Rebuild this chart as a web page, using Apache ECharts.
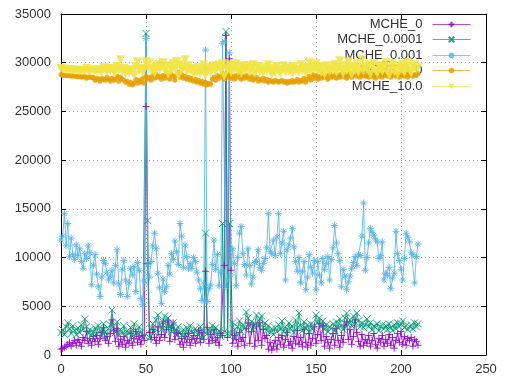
<!DOCTYPE html>
<html>
<head>
<meta charset="utf-8">
<script src="https://cdn.jsdelivr.net/npm/echarts@6/dist/echarts.min.js"></script>
<style>
html,body{margin:0;padding:0;background:#fff;}
#chart{width:505px;height:379px;}
</style>
</head>
<body>
<div id="chart"></div>
<script>
// x positions are sample indices 0..210
const seriesNames = ['MCHE_0', 'MCHE_0.0001', 'MCHE_0.001', 'MCHE_1.0', 'MCHE_10.0'];
const xTicks = [0, 50, 100, 150, 200, 250];
const yTicks = [0, 5000, 10000, 15000, 20000, 25000, 30000, 35000];

const mche0 = [
600, 650, 800, 900, 1100, 1300, 900, 1200, 1500, 1000,
1600, 1300, 900, 1800, 1500, 2400, 1200, 1700, 1000, 1900,
1400, 2000, 1100, 1700, 2300, 2800, 1500, 1900, 1200, 2200,
3600, 2500, 1400, 2700, 900, 1600, 1100, 1900, 800, 1500,
1200, 2200, 1000, 1700, 2400, 1300, 1900, 1100, 2000, 1500,
25500, 9400, 2300, 1600, 2600, 1800, 1200, 2900, 1500, 2100,
3400, 1800, 2600, 3500, 1400, 2800, 3300, 1600, 2300, 2200,
1100, 1700, 800, 1900, 1300, 2200, 1000, 1600, 2000, 1200,
1700, 2500, 1300, 2300, 1600, 8600, 2800, 1200, 2100, 1500,
2600, 1300, 1800, 1000, 2200, 2000, 9200, 32800, 1800, 30400,
8700, 1200, 2000, 1600, 900, 2300, 1400, 1800, 1000, 2700,
3300, 1200, 2400, 3100, 900, 2900, 1500, 3300, 1000, 2600,
1700, 2000, 600, 1300, 500, 900, 1500, 600, 1800, 1100,
2000, 800, 1600, 2300, 1000, 1400, 700, 1900, 1200, 2500,
1100, 1800, 900, 2600, 1300, 800, 2200, 1000, 1700, 2900,
1200, 2100, 3200, 1500, 3000, 900, 1900, 1300, 700, 1600,
2200, 1000, 2700, 1500, 800, 2000, 1300, 3000, 3400, 1600,
2600, 1100, 1900, 3600, 2300, 1400, 900, 2100, 1000, 1600,
1200, 2000, 900, 1500, 2200, 1100, 700, 1700, 1300, 2000,
900, 1600, 1200, 2100, 1000, 1800, 700, 1500, 2200, 1300,
2400, 1100, 1900, 1000, 1700, 1500, 1800, 900, 1600, 1400, 1000
];

const mche00001 = [
2300, 2600, 2100, 2900, 3300, 2700, 2200, 3000, 2500, 2100,
2800, 2300, 3100, 2600, 3700, 2900, 2200, 2600, 2000, 2400,
2800, 2200, 3000, 2500, 1900, 3200, 2400, 2100, 2700, 3100,
4600, 2900, 2300, 3400, 2000, 2600, 2200, 3000, 1900, 2500,
2200, 2800, 1900, 3200, 2500, 2100, 2900, 2300, 1800, 2000,
33000, 13800, 1800, 2700, 3200, 2300, 3600, 4100, 3100, 2600,
3400, 4000, 2700, 3800, 3000, 2400, 3300, 2600, 2200, 2900,
2300, 2000, 2600, 1900, 2800, 2200, 3000, 2400, 2100, 2700,
2500, 2000, 2900, 1700, 2400, 12500, 2200, 2600, 2000, 3000,
2300, 2800, 2100, 2500, 1900, 13500, 2400, 33200, 2200, 13500,
2100, 3300, 2600, 2000, 2900, 3500, 2400, 3100, 2700, 4400,
3800, 2900, 3400, 2600, 3200, 4100, 3000, 3700, 4000, 2800,
3300, 2500, 3000, 2300, 2700, 2100, 2800, 2400, 3100, 2600,
3500, 2400, 2900, 2200, 3300, 2700, 3000, 2300, 3600, 2800,
4300, 3000, 2500, 3400, 2700, 3100, 2400, 3200, 2600, 3000,
4100, 3300, 3800, 2900, 3500, 2600, 3100, 2400, 2900, 2700,
3200, 2500, 3400, 2800, 3700, 3000, 2600, 3800, 4300, 3100,
3600, 3000, 4000, 3200, 4300, 3500, 2900, 3300, 2800, 3100,
3700, 2900, 3300, 2600, 3000, 2800, 3200, 2500, 2900, 3100,
2700, 3000, 2600, 3200, 2800, 2500, 3100, 2700, 3300, 2900,
3200, 3500, 2800, 3000, 2600, 2900, 3100, 2700, 3300, 2900, 3200
];

const mche0001 = [
11800, 12200, 14500, 11200, 13500, 10100, 12000, 10300, 9800, 11300,
10200, 10900, 9600, 8900, 10400, 9900, 11200, 10500, 7200, 9200,
10300, 8300, 7000, 6000, 8000, 9700, 9400, 8500, 7700, 8100,
8700, 7400, 9200, 10800, 7300, 6200, 8800, 9700, 7700, 6000,
7400, 8900, 8200, 9100, 6500, 9500, 8700, 5800, 5200, 7600,
32500, 9300, 8000, 9600, 11200, 12500, 10900, 8400, 6900, 5300,
7800, 6500, 7000, 9200, 8300, 10400, 9800, 11700, 10600, 9300,
13500, 12200, 9000, 11300, 10100, 8900, 9400, 8900, 10000, 9600,
8500, 7700, 6800, 5600, 7300, 31300, 5500, 6800, 7200, 9300,
11800, 8800, 10300, 7100, 8500, 32000, 32200, 7000, 7700, 31000,
8200, 10900, 9400, 7100, 10000, 12500, 13200, 10400, 9300, 8200,
10900, 9200, 7300, 8000, 9500, 9600, 10800, 9000, 8700, 9400,
9900, 11000, 14500, 10600, 10400, 11800, 10200, 12100, 14500, 10400,
11500, 12700, 7700, 10800, 11300, 12000, 13000, 11100, 9600, 8600,
10000, 7400, 8600, 9600, 6700, 8000, 10300, 9000, 8400, 9700,
6700, 9600, 8200, 7400, 9900, 8800, 9400, 10100, 7700, 9800,
11000, 13300, 11500, 10400, 9700, 7000, 8800, 8100, 6700, 7500,
8100, 8900, 9500, 10100, 9200, 10300, 10200, 12200, 15600, 8700,
10000, 11500, 13000, 12600, 12300, 11900, 11600, 9900, 10200, 11600,
7700, 8400, 8200, 9000, 6800, 7900, 8400, 12700, 10400, 9700,
8800, 7700, 9900, 12500, 12100, 11600, 10500, 10300, 7400, 10100, 11400
];

const mche1 = [
28800, 28700, 28750, 28700, 28650, 28700, 28600, 28650, 28600, 28600,
28550, 28600, 28500, 28550, 28600, 28400, 28500, 28550, 28450, 28500,
28200, 28400, 28300, 28100, 28400, 28300, 28200, 28500, 28300, 28100,
28400, 28200, 28300, 28600, 28100, 28500, 28300, 28200, 28000, 28100,
27800, 28000, 27700, 27900, 28300, 27900, 28200, 28000, 28400, 27900,
28600, 28300, 28500, 28200, 28700, 28400, 28800, 28500, 28600, 28300,
28700, 28400, 28900, 28500, 28300, 28800, 28600, 28200, 28700, 29000,
28500, 28800, 28400, 28600, 28300, 28500, 28200, 28400, 28100, 28300,
28000, 28200, 27900, 28100, 27800, 28000, 27700, 27900, 27800, 28300,
28500, 28200, 28700, 28400, 28600, 28900, 28300, 28700, 28500, 28800,
28400, 28600, 28300, 28700, 28500, 28900, 28300, 28600, 28400, 28700,
28500, 28300, 28600, 28200, 28400, 28500, 28100, 28300, 28200, 28400,
28100, 28300, 28000, 28200, 28100, 28000, 28200, 28100, 28000, 28100,
28200, 28000, 28100, 27900, 28100, 28000, 28200, 28000, 28100, 28300,
28000, 28200, 28100, 28400, 28000, 28300, 28600, 28200, 28800, 28400,
28700, 28300, 28600, 28400, 28800, 28500, 28700, 28300, 28900, 28500,
28600, 28800, 28400, 28700, 28500, 28900, 28600, 28800, 28400, 28700,
28900, 28500, 28700, 29000, 28600, 28800, 28500, 28900, 28700, 28600,
28800, 28500, 28900, 28600, 28700, 28400, 28800, 28600, 28900, 28500,
28700, 28900, 28600, 28800, 28500, 28700, 29000, 28600, 28800, 28500,
28900, 28700, 28600, 28800, 28500, 28900, 28700, 28600, 28800, 28700, 28900
];

const mche10 = [
29400, 29300, 29350, 29300, 29250, 29300, 29200, 29250, 29200, 29250,
29200, 29150, 29200, 29200, 29150, 29400, 29200, 29100, 29250, 29150,
29200, 29100, 29300, 29200, 29000, 29500, 29300, 29100, 29400, 29200,
29400, 29100, 29000, 29600, 29300, 30300, 29100, 29400, 28900, 29200,
29000, 29300, 29100, 28700, 29600, 30100, 29200, 29400, 29000, 29300,
30100, 29600, 30000, 29200, 29400, 28900, 29500, 29800, 29300, 29600,
30000, 29200, 29600, 28800, 29700, 29200, 29900, 29400, 30100, 28700,
29800, 29300, 29500, 30300, 29100, 29700, 29200, 29400, 28800, 29300,
29000, 29500, 28900, 29300, 29800, 28700, 29200, 29500, 29000, 29400,
29700, 29100, 29600, 29800, 29200, 29900, 28600, 29500, 29300, 29800,
29000, 29600, 29300, 29900, 29100, 29500, 28900, 29700, 29200, 29400,
29700, 29000, 29500, 29800, 28900, 29400, 29600, 29100, 29300, 29000,
29500, 29100, 29800, 29200, 28800, 29400, 29000, 29600, 29200, 28900,
29300, 29700, 29000, 29500, 29100, 29400, 28900, 29600, 29200, 29300,
29000, 29800, 29200, 29500, 28900, 29400, 30000, 29100, 29700, 29300,
29900, 29200, 29600, 29000, 29500, 28800, 29700, 29300, 29100, 29600,
29200, 29800, 29000, 29500, 30200, 29300, 28900, 29700, 29200, 30100,
29400, 28800, 29600, 29200, 29900, 29000, 29500, 30300, 29100, 29600,
29300, 29800, 28800, 29500, 29900, 29200, 28900, 29700, 29400, 29100,
29600, 30000, 29200, 28700, 29500, 29900, 29100, 29400, 28800, 29600,
29300, 29800, 29000, 29500, 30000, 29200, 28900, 29600, 29800, 29300, 29500
];

const allValues = [mche0, mche00001, mche0001, mche1, mche10];
const colors = ['#9400d3', '#009e73', '#56b4e9', '#e69f00', '#f0e442'];
const symbols = [
  'path://M0,5 L10,5 M5,0 L5,10',
  'path://M0,0 L10,10 M0,10 L10,0',
  'path://M0,5 L10,5 M5,0 L5,10 M1.5,1.5 L8.5,8.5 M1.5,8.5 L8.5,1.5',
  'circle',
  'path://M0,0 L10,0 L5,9 Z'
];
const symbolSizes = [7, 7, 7, 5, 9];

const chart = echarts.init(document.getElementById('chart'), null, {renderer: 'canvas'});
const FONT = 'Liberation Sans, Arial, sans-serif';

const series = seriesNames.map((name, k) => ({
  name: name,
  type: 'line',
  xAxisIndex: 0,
  yAxisIndex: 0,
  data: allValues[k].map((v, i) => [i, v]),
  symbol: symbols[k],
  symbolSize: symbolSizes[k],
  showAllSymbol: true,
  lineStyle: {color: colors[k], width: 1, opacity: 0.85},
  itemStyle: {color: colors[k], borderColor: colors[k], borderWidth: k === 3 || k === 4 ? 0 : 1, opacity: 0.85},
  z: 3,
  animation: false
}));

const legendTops = [18, 33, 49, 64, 80];
const legends = seriesNames.map((name, k) => ({
  data: [name],
  right: 34,
  top: legendTops[k],
  padding: 0,
  align: 'right',
  itemWidth: 38,
  itemHeight: 7,
  z: 1,
  selectedMode: false,
  lineStyle: {width: 1, opacity: 0.7},
  textStyle: {fontFamily: FONT, fontSize: 13, color: '#333', padding: [0, 5, 0, 0]}
}));

function axisCommon(min, max, interval) {
  return {
    type: 'value', min: min, max: max, interval: interval,
    axisLine: {show: true, onZero: false, lineStyle: {color: '#000', width: 1}},
    axisTick: {show: true, inside: true, length: 5, lineStyle: {color: '#000'}},
  };
}

const plainNum = v => String(v);

const option = {
  animation: false,
  backgroundColor: '#fff',
  grid: {left: 61, right: 19, top: 14, bottom: 24, containLabel: false},
  legend: legends,
  xAxis: [
    Object.assign(axisCommon(xTicks[0], xTicks[xTicks.length - 1], xTicks[1] - xTicks[0]), {
      position: 'bottom',
      axisLabel: {show: true, fontFamily: FONT, fontSize: 13, color: '#333', margin: 8, showMinLabel: true, showMaxLabel: true, formatter: plainNum},
      splitLine: {show: true, lineStyle: {color: '#aaa', type: [1, 3], width: 1}}
    }),
    Object.assign(axisCommon(xTicks[0], xTicks[xTicks.length - 1], xTicks[1] - xTicks[0]), {
      position: 'top',
      axisLabel: {show: false},
      splitLine: {show: false}
    })
  ],
  yAxis: [
    Object.assign(axisCommon(yTicks[0], yTicks[yTicks.length - 1], yTicks[1] - yTicks[0]), {
      position: 'left',
      axisLabel: {show: true, fontFamily: FONT, fontSize: 13, color: '#333', margin: 10, showMinLabel: true, showMaxLabel: true, formatter: plainNum},
      splitLine: {show: true, lineStyle: {color: '#aaa', type: [1, 3], width: 1}}
    }),
    Object.assign(axisCommon(yTicks[0], yTicks[yTicks.length - 1], yTicks[1] - yTicks[0]), {
      position: 'right',
      axisLabel: {show: false},
      splitLine: {show: false}
    })
  ],
  series: series
};

chart.setOption(option);
</script>
</body>
</html>
